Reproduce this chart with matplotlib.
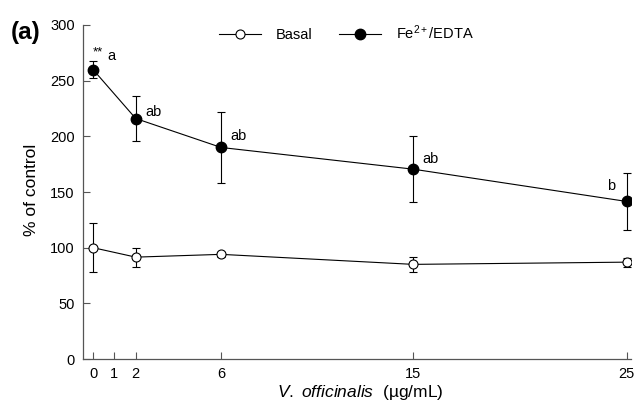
import numpy as np
import matplotlib
matplotlib.use('Agg')
import matplotlib.pyplot as plt

plt.rcParams['font.family'] = ['Liberation Sans', 'DejaVu Sans']
plt.rcParams['mathtext.fontset'] = 'custom'
plt.rcParams['mathtext.rm'] = 'Liberation Sans'
plt.rcParams['mathtext.it'] = 'Liberation Sans:italic'
plt.rcParams['mathtext.default'] = 'regular'

# concentrations (ug/mL)
conc = [0, 2, 6, 15, 25]
xticks = [0, 1, 2, 6, 15, 25]

basal = [100, 91.5, 94, 85, 87]
basal_err = [22, 8.5, 2, 7, 4]

fe = [260, 216, 190, 170.5, 141.5]
fe_err = [8, 20.5, 31.5, 29.5, 25.5]

labels = ['a', 'ab', 'ab', 'ab', 'b']
label_off = [(10, 9.4), (6.8, 4.6), (6.5, 8), (6.5, 7.2), (-14.4, 10.8)]

edge = '#555555'

fig = plt.figure(figsize=(6.35, 4.07), dpi=100)
ax = fig.add_axes([0.1307, 0.1179, 0.8630, 0.8207])

ax.errorbar(conc, basal, yerr=basal_err, fmt='none', ecolor='k', elinewidth=0.8,
            capsize=2.8, capthick=0.8, zorder=2)
ax.errorbar(conc, fe, yerr=fe_err, fmt='none', ecolor='k', elinewidth=0.8,
            capsize=2.8, capthick=0.8, zorder=2)
ax.plot(conc, basal, color='k', lw=0.8, marker='o', ms=6.5, mfc='white',
        mec='k', mew=0.8, label='Basal', zorder=3)
ax.plot(conc, fe, color='k', lw=0.8, marker='o', ms=7.5, mfc='k',
        mec='k', label='Fe$^{2+}$/EDTA', zorder=3)

for x, y, s, off in zip(conc, fe, labels, label_off):
    ax.annotate(s, (x, y), xytext=off, textcoords='offset points',
                fontsize=10.5, ha='left', va='center')
ax.annotate('**', (conc[0], fe[0]), xytext=(0, 12), textcoords='offset points',
            fontsize=9.5, ha='left', va='center')

ax.set_xlim(-0.47, 25.2)
ax.set_ylim(0, 300)
ax.set_xticks(xticks)
ax.set_yticks(np.arange(0, 301, 50))
ax.tick_params(direction='in', length=5, width=0.8, color=edge, labelsize=10.5, pad=6)
for side in ['top', 'right']:
    ax.spines[side].set_visible(False)
for side in ['left', 'bottom']:
    ax.spines[side].set_color(edge)
    ax.spines[side].set_linewidth(0.9)

ax.set_ylabel('% of control', fontsize=12.5)
ax.set_xlabel(r'$\it{V.\ officinalis}$  (µg/mL)', fontsize=12.5)
ax.xaxis.set_label_coords(0.505, -0.072)
ax.yaxis.set_label_coords(-0.080, 0.506)

ax.legend(loc='center', bbox_to_anchor=(0.545, 0.919), bbox_transform=fig.transFigure,
          ncol=2, frameon=False, fontsize=10.5, handlelength=2.9,
          handletextpad=1.0, columnspacing=1.8)

fig.text(0.017, 0.921, '(a)', fontsize=17.5, fontweight='bold', va='center')

plt.savefig('out.png', dpi=100)
